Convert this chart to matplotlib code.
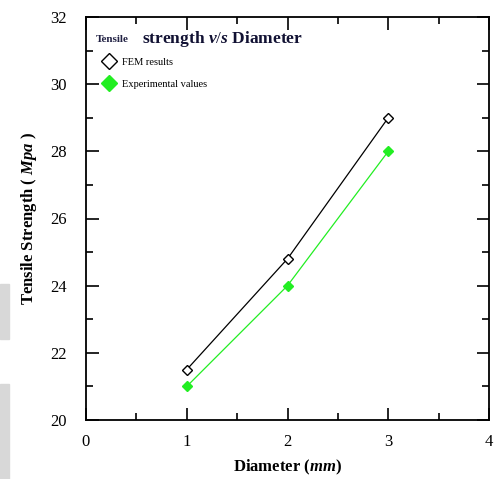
import matplotlib.pyplot as plt
from matplotlib.patches import Rectangle
from matplotlib.ticker import MultipleLocator

diameter = [1, 2, 3]
fem = [21.5, 24.8, 29.0]
experimental = [21.0, 24.0, 28.0]

plt.rcParams['font.family'] = ['Liberation Serif', 'DejaVu Serif']
plt.rcParams['mathtext.fontset'] = 'custom'
plt.rcParams['mathtext.rm'] = 'Liberation Serif'
plt.rcParams['mathtext.it'] = 'Liberation Serif:italic:bold'
plt.rcParams['mathtext.bf'] = 'Liberation Serif:bold'

fig = plt.figure(figsize=(4.96, 4.79), dpi=100)
ax = fig.add_axes([86 / 496, 59 / 479, 403 / 496, 403 / 479])

ax.plot(diameter, fem, color='black', lw=0.9, marker='D', ms=5,
        mfc='white', mec='black', mew=1.0, label='FEM results')
ax.plot(diameter, experimental, color='#22ee22', lw=0.9, marker='D', ms=5,
        mfc='#22ee22', mec='#22ee22', label='Experimental values')

ax.set_xlim(0, 4)
ax.set_ylim(20, 32)
ax.xaxis.set_major_locator(MultipleLocator(1))
ax.xaxis.set_minor_locator(MultipleLocator(0.5))
ax.yaxis.set_major_locator(MultipleLocator(2))
ax.yaxis.set_minor_locator(MultipleLocator(1))
ax.tick_params(which='both', direction='in', top=True, right=True,
               labelsize=12, width=1.2)
ax.tick_params(axis='y', pad=14)
ax.tick_params(axis='x', pad=10)
ax.tick_params(which='major', length=9)
ax.tick_params(which='minor', length=5)
for s in ax.spines.values():
    s.set_linewidth(1.3)

ax.set_xlabel('Diameter ($\\it{mm}$)', fontsize=12, fontweight='bold', labelpad=6)
ax.set_ylabel('Tensile Strength ( $\\it{Mpa}$ )', fontsize=12, fontweight='bold', labelpad=8)

ax.text(0.025, 0.945, 'Tensile', transform=ax.transAxes, fontsize=8,
        fontweight='bold', va='center', color='#222244')
ax.text(0.14, 0.945, 'strength $\\it{v/s}$ Diameter', transform=ax.transAxes,
        fontsize=12.5, fontweight='bold', va='center', color='#111133')

leg = ax.legend(loc='upper left', bbox_to_anchor=(0.025, 0.92), frameon=False,
                fontsize=7.5, handlelength=0.8, numpoints=1, markerscale=1.6,
                borderaxespad=0.4, labelspacing=1.2, handletextpad=0.9)

fig.patches.append(Rectangle((0, 140 / 479), 9 / 496, 55 / 479,
                             transform=fig.transFigure, color='#d8d8d8', zorder=0))
fig.patches.append(Rectangle((0, 0), 9 / 496, 95 / 479,
                             transform=fig.transFigure, color='#d8d8d8', zorder=0))

fig.savefig('out.png', dpi=100)
